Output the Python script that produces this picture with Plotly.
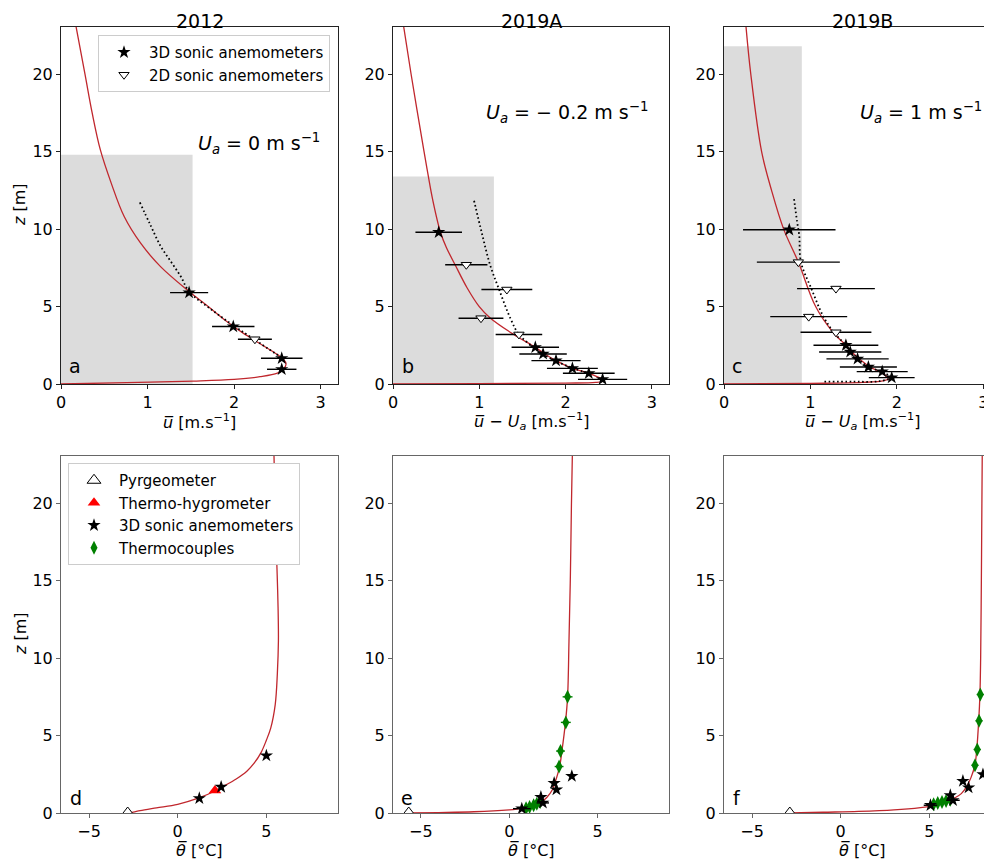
import plotly.graph_objects as go

# ---------------- DATA ----------------
panel_titles = ["2012", "2019A", "2019B"]
panel_letters = ["a", "b", "c", "d", "e", "f"]
ua_labels = ["<i>U</i><sub><i>a</i></sub> = 0 m s<sup>−1</sup>",
             "<i>U</i><sub><i>a</i></sub> = − 0.2 m s<sup>−1</sup>",
             "<i>U</i><sub><i>a</i></sub> = 1 m s<sup>−1</sup>"]

# canopy (grey region): width in u and height in z
canopy_u = [1.52, 1.17, 0.90]
canopy_z = [14.8, 13.4, 21.8]

# ---- wind, 2012 ----
a_model_u = [0, 0.76, 1.53, 2.0, 2.3, 2.5, 2.57, 2.6, 2.57, 2.5, 2.3, 2.1, 1.9, 1.7, 1.48, 1.15, 0.92, 0.73, 0.58, 0.454, 0.36, 0.277, 0.173]
a_model_z = [0, 0.085, 0.19, 0.3, 0.47, 0.7, 0.95, 1.3, 1.6, 1.9, 2.6, 3.3, 4.1, 5.0, 5.97, 7.58, 9.09, 10.81, 12.97, 15.13, 17.5, 20.0, 23.1]
a_fit_u = [0.911, 1.03, 1.153, 1.27, 1.384, 1.48, 1.75, 2.0, 2.24, 2.55]
a_fit_z = [11.72, 10.3, 8.88, 7.9, 6.94, 5.97, 4.75, 3.75, 2.85, 1.7]
a_3d_u = [1.48, 1.99, 2.55, 2.55]
a_3d_z = [5.9, 3.71, 1.66, 0.95]
a_3d_err = [0.22, 0.245, 0.24, 0.17]
a_2d_u = [2.24]
a_2d_z = [2.89]
a_2d_err = [0.196]

# ---- wind, 2019A ----
b_model_u = [0, 1.0, 2.0, 2.35, 2.45, 2.43, 2.27, 2.08, 1.89, 1.76, 1.65, 1.40, 1.13, 1.0, 0.86, 0.72, 0.62, 0.55, 0.46, 0.41, 0.36, 0.21, 0.123]
b_model_z = [0, 0.03, 0.06, 0.1, 0.2, 0.3, 0.69, 1.01, 1.51, 1.94, 2.37, 3.2, 4.25, 5.0, 6.2, 7.7, 8.8, 9.8, 11.9, 13.4, 15.0, 20.0, 23.1]
b_fit_u = [0.94, 1.03, 1.125, 1.23, 1.36, 1.46, 1.63, 1.75, 1.9, 2.1, 2.28]
b_fit_z = [11.83, 9.74, 7.7, 6.1, 4.25, 3.2, 2.37, 1.9, 1.45, 1.0, 0.65]
b_3d_u = [0.53, 1.65, 1.74, 1.89, 2.08, 2.27, 2.43]
b_3d_z = [9.8, 2.37, 1.94, 1.51, 1.01, 0.69, 0.30]
b_3d_err = [0.27, 0.275, 0.275, 0.285, 0.295, 0.30, 0.285]
b_2d_u = [0.85, 1.32, 1.02, 1.46]
b_2d_z = [7.7, 6.1, 4.25, 3.2]
b_2d_err = [0.245, 0.295, 0.26, 0.27]

# ---- wind, 2019B ----
c_model_u = [0, 1.0, 1.6, 1.85, 1.9, 1.88, 1.80, 1.69, 1.57, 1.49, 1.41, 1.26, 1.06, 0.86, 0.69, 0.55, 0.435, 0.31, 0.254]
c_model_z = [0, 0.04, 0.1, 0.22, 0.35, 0.5, 0.8, 1.1, 1.6, 2.0, 2.5, 3.34, 5.0, 7.87, 10.0, 12.5, 15.0, 20.0, 23.1]
c_fit_u = [0.81, 0.845, 0.87, 0.89, 1.01, 1.15, 1.27, 1.41, 1.55, 1.67, 1.82, 1.93, 1.8, 1.5, 1.13]
c_fit_z = [11.94, 10.5, 9.6, 7.87, 6.16, 4.35, 3.34, 2.5, 1.62, 1.1, 0.8, 0.42, 0.18, 0.15, 0.15]
c_3d_u = [0.755, 1.41, 1.46, 1.545, 1.67, 1.83, 1.94]
c_3d_z = [9.96, 2.5, 2.07, 1.62, 1.10, 0.80, 0.41]
c_3d_err = [0.535, 0.375, 0.36, 0.36, 0.33, 0.295, 0.265]
c_2d_u = [0.86, 1.295, 0.98, 1.295]
c_2d_z = [7.87, 6.16, 4.35, 3.34]
c_2d_err = [0.48, 0.45, 0.445, 0.41]

# ---- temperature, 2012 ----
d_model_t = [-2.82, -2.5, -2.12, -1.2, 0, 1.2, 2.1, 2.5, 3.3, 3.9, 4.3, 4.7, 5.0, 5.25, 5.5, 5.62, 5.68, 5.66, 5.61, 5.55, 5.49, 5.43]
d_model_z = [0, 0.06, 0.15, 0.33, 0.56, 0.97, 1.42, 1.68, 2.2, 2.7, 3.2, 3.9, 4.7, 5.5, 7.0, 9.0, 11.1, 13.3, 15.4, 17.6, 20.0, 23.1]
d_pyr_t = [-2.82]
d_pyr_z = [0.0]
d_hyg_t = [2.1]
d_hyg_z = [1.46]
d_3d_t = [1.22, 2.45, 5.0]
d_3d_z = [0.95, 1.68, 3.7]

# ---- temperature, 2019A ----
e_model_t = [-5.69, -4.0, -2.0, 0, 0.43, 1.0, 1.41, 1.8, 2.12, 2.44, 2.6, 2.85, 2.98, 3.18, 3.3, 3.38, 3.46, 3.52, 3.57]
e_model_z = [0, 0.03, 0.08, 0.2, 0.25, 0.35, 0.5, 0.7, 1.0, 1.5, 2.0, 3.0, 4.0, 5.85, 7.5, 11.1, 15.4, 20.0, 23.1]
e_pyr_t = [-5.69]
e_pyr_z = [0.0]
e_3d_t = [0.71, 1.79, 1.9, 2.54, 2.67, 3.54]
e_3d_z = [0.28, 1.03, 0.65, 1.93, 1.51, 2.38]
e_3d_err = [0.5, 0.15, 0.35, 0.1, 0.15, 0.1]
e_tc_t = [0.95, 1.15, 1.38, 1.56, 1.75, 2.82, 2.9, 3.2, 3.3]
e_tc_z = [0.3, 0.39, 0.5, 0.6, 0.71, 3.0, 4.0, 5.85, 7.5]
e_tc_err = [0.25, 0.25, 0.25, 0.25, 0.25, 0.25, 0.25, 0.28, 0.28]

# ---- temperature, 2019B ----
f_model_t = [-2.87, -1.0, 1.0, 3.0, 4.5, 5.1, 5.6, 6.0, 6.4, 6.8, 7.1, 7.35, 7.57, 7.67, 7.78, 7.85, 7.89, 7.93, 7.96, 7.98]
f_model_z = [0, 0.05, 0.1, 0.2, 0.35, 0.45, 0.6, 0.75, 0.95, 1.25, 1.7, 2.3, 3.1, 4.1, 5.95, 7.65, 10.0, 15.0, 20.0, 23.1]
f_pyr_t = [-2.87]
f_pyr_z = [0.0]
f_3d_t = [5.06, 6.18, 6.33, 6.89, 7.21, 8.02]
f_3d_z = [0.5, 1.14, 0.82, 2.06, 1.64, 2.49]
f_3d_err = [0.38, 0.1, 0.38, 0.1, 0.1, 0.1]
f_tc_t = [5.24, 5.47, 5.71, 5.94, 6.18, 7.57, 7.7, 7.8, 7.87]
f_tc_z = [0.56, 0.65, 0.71, 0.77, 0.86, 3.08, 4.1, 5.95, 7.65]
f_tc_err = [0.2, 0.2, 0.2, 0.2, 0.2, 0.2, 0.2, 0.2, 0.2]

# ---------------- FIGURE ----------------
# page body has an 8px default margin: figure occupies 8..992 x 8..865
OFF = 8
W, H = 992 - OFF, 865 - OFF
FONT = "DejaVu Sans"
RED = "#c0272d"
STAR = 10

def fx(p):
    return (p - OFF) / W

def fy(p):
    return 1 - (p - OFF) / H

cols_px = [(61, 338), (393, 669), (724, 992)]
col_center_px = [199.5, 531, 862]
rows_px = [(27, 384), (456, 813)]

fig = go.Figure()

def add_line(x, y, ax, dash=None, color=RED, width=1.3):
    fig.add_trace(go.Scatter(
        x=x, y=y, mode="lines", xaxis="x" + ax, yaxis="y" + ax,
        line=dict(color=color, width=width, dash=dash, shape="spline", smoothing=1.0),
        showlegend=False, hoverinfo="skip"))

def add_pts(x, y, ax, symbol, size, color, err=None, ecolor="black", name=None,
            legend=None, showlegend=False, lcolor=None, lwidth=0, rank=None):
    kw = {}
    if err is not None:
        kw["error_x"] = dict(type="data", array=err, visible=True, color=ecolor,
                             thickness=1.4, width=0)
    fig.add_trace(go.Scatter(
        x=x, y=y, mode="markers", xaxis="x" + ax, yaxis="y" + ax,
        marker=dict(symbol=symbol, size=size, color=color,
                    line=dict(color=lcolor or color, width=lwidth)),
        name=name, legend=legend, showlegend=showlegend,
        legendrank=rank if rank else 1000, **kw))

dotted = "1.6px,2.6px"

# top row
add_line(a_model_u, a_model_z, "")
add_line(a_fit_u, a_fit_z, "", dash=dotted, color="black", width=1.8)
add_pts(a_3d_u, a_3d_z, "", "star", STAR, "black", err=a_3d_err,
        name="3D sonic anemometers", legend="legend", showlegend=True, rank=1)
add_pts(a_2d_u, a_2d_z, "", "triangle-down", 9, "white", err=a_2d_err,
        name="2D sonic anemometers", legend="legend", showlegend=True,
        lcolor="black", lwidth=1, rank=2)

add_line(b_model_u, b_model_z, "2")
add_line(b_fit_u, b_fit_z, "2", dash=dotted, color="black", width=1.8)
add_pts(b_3d_u, b_3d_z, "2", "star", STAR, "black", err=b_3d_err)
add_pts(b_2d_u, b_2d_z, "2", "triangle-down", 9, "white", err=b_2d_err,
        lcolor="black", lwidth=1)

add_line(c_model_u, c_model_z, "3")
add_line(c_fit_u, c_fit_z, "3", dash=dotted, color="black", width=1.8)
add_pts(c_3d_u, c_3d_z, "3", "star", STAR, "black", err=c_3d_err)
add_pts(c_2d_u, c_2d_z, "3", "triangle-down", 9, "white", err=c_2d_err,
        lcolor="black", lwidth=1)

# bottom row
add_line(d_model_t, d_model_z, "4")
add_pts(d_pyr_t, d_pyr_z, "4", "triangle-up", 12, "white", lcolor="black", lwidth=1,
        name="Pyrgeometer", legend="legend2", showlegend=True, rank=1)
add_pts(d_hyg_t, d_hyg_z, "4", "triangle-up", 11, "#ff0000",
        name="Thermo-hygrometer", legend="legend2", showlegend=True, rank=2)
add_pts(d_3d_t, d_3d_z, "4", "star", STAR, "black",
        name="3D sonic anemometers", legend="legend2", showlegend=True, rank=3)

add_line(e_model_t, e_model_z, "5")
add_pts(e_pyr_t, e_pyr_z, "5", "triangle-up", 12, "white", lcolor="black", lwidth=1)
add_pts(e_tc_t, e_tc_z, "5", "diamond-tall", 10, "#008000", err=e_tc_err, ecolor="#008000",
        name="Thermocouples", legend="legend2", showlegend=True, rank=4)
add_pts(e_3d_t, e_3d_z, "5", "star", STAR, "black", err=e_3d_err)

add_line(f_model_t, f_model_z, "6")
add_pts(f_pyr_t, f_pyr_z, "6", "triangle-up", 12, "white", lcolor="black", lwidth=1)
add_pts(f_tc_t, f_tc_z, "6", "diamond-tall", 10, "#008000", err=f_tc_err, ecolor="#008000")
add_pts(f_3d_t, f_3d_z, "6", "star", STAR, "black", err=f_3d_err)

# canopy shading
shapes = []
for i, ax in enumerate(["", "2", "3"]):
    shapes.append(dict(type="rect", xref="x" + ax, yref="y" + ax, x0=0, x1=canopy_u[i],
                       y0=0, y1=canopy_z[i], fillcolor="#dcdcdc", line=dict(width=0),
                       layer="below"))

# axes
layout = dict(
    width=W, height=H, autosize=False,
    margin=dict(l=0, r=0, t=0, b=0, pad=0, autoexpand=False),
    paper_bgcolor="white", plot_bgcolor="white",
    font=dict(family=FONT, size=16, color="black"),
    shapes=shapes,
)

x_ranges = [[0, 3.2], [0, 3.2], [0, 3.1], [-6.58, 9.04], [-6.58, 9.04], [-6.58, 8.53]]
top_ticks = [0, 1, 2, 3]
bot_ticks = [-5, 0, 5]
z_ticks = [0, 5, 10, 15, 20]

for k in range(6):
    r, c = divmod(k, 3)
    suffix = "" if k == 0 else str(k + 1)
    lc = "#222222" if r == 0 else "#666666"
    x0, x1 = cols_px[c]
    y0, y1 = rows_px[r]
    layout["xaxis" + suffix] = dict(
        domain=[fx(x0), min(fx(x1), 1.0)], anchor="y" + suffix, range=x_ranges[k],
        showline=True, linecolor=lc, linewidth=1, mirror=True,
        ticks="outside", ticklen=4, tickcolor=lc, tickwidth=1,
        tickvals=top_ticks if r == 0 else bot_ticks, automargin=False,
        showgrid=False, zeroline=False, tickfont=dict(size=16, family=FONT))
    layout["yaxis" + suffix] = dict(
        domain=[fy(y1), fy(y0)], anchor="x" + suffix, range=[0, 23.05],
        showline=True, linecolor=lc, linewidth=1, mirror=(c != 2),
        ticks="outside", ticklen=4, tickcolor=lc, tickwidth=1, automargin=False,
        tickvals=z_ticks, showgrid=False, zeroline=False,
        tickfont=dict(size=16, family=FONT))

layout["legend"] = dict(x=fx(98), y=fy(35), xanchor="left", yanchor="top",
                        bgcolor="white", bordercolor="#cccccc", borderwidth=1,
                        font=dict(size=15, family=FONT), itemwidth=40,
                        traceorder="normal")
layout["legend2"] = dict(x=fx(68), y=fy(463), xanchor="left", yanchor="top",
                         bgcolor="white", bordercolor="#cccccc", borderwidth=1,
                         font=dict(size=15, family=FONT), itemwidth=40,
                         traceorder="normal")

ann = []
# titles
for c in range(3):
    ann.append(dict(text=panel_titles[c], x=fx(col_center_px[c]), y=1.0, xref="paper",
                    yref="paper", showarrow=False, xanchor="center", yanchor="top",
                    font=dict(size=19)))
# U_a labels
ua_pos = [(259, 143), (567, 113), (921, 113)]
for c in range(3):
    ann.append(dict(text=ua_labels[c], x=fx(ua_pos[c][0]), y=fy(ua_pos[c][1]), xref="paper",
                    yref="paper", showarrow=False, xanchor="center", yanchor="middle",
                    font=dict(size=19)))
# panel letters
letter_pos = [(75, 366), (408, 366), (737, 366), (76, 798), (407, 798), (737, 798)]
for i in range(6):
    ann.append(dict(text=panel_letters[i], x=fx(letter_pos[i][0]), y=fy(letter_pos[i][1]),
                    xref="paper", yref="paper", showarrow=False, xanchor="center",
                    yanchor="middle", font=dict(size=19)))
# axis titles
xt_top = ["<i>u̅</i> [m.s<sup>−1</sup>]",
          "<i>u̅</i> − <i>U</i><sub><i>a</i></sub> [m.s<sup>−1</sup>]",
          "<i>u̅</i> − <i>U</i><sub><i>a</i></sub> [m.s<sup>−1</sup>]"]
for c in range(3):
    ann.append(dict(text=xt_top[c], x=fx(col_center_px[c]), y=fy(421), xref="paper",
                    yref="paper", showarrow=False, xanchor="center", yanchor="middle",
                    font=dict(size=16)))
    ann.append(dict(text="<i>θ̅</i> [°C]", x=fx(col_center_px[c]), y=fy(850), xref="paper",
                    yref="paper", showarrow=False, xanchor="center", yanchor="middle",
                    font=dict(size=16)))
for yc in [205, 634]:
    ann.append(dict(text="<i>z</i> [m]", x=fx(20), y=fy(yc), xref="paper", yref="paper",
                    showarrow=False, xanchor="center", yanchor="middle", textangle=-90,
                    font=dict(size=16)))
layout["annotations"] = ann

fig.update_layout(**layout)
fig.write_html("out.html")
